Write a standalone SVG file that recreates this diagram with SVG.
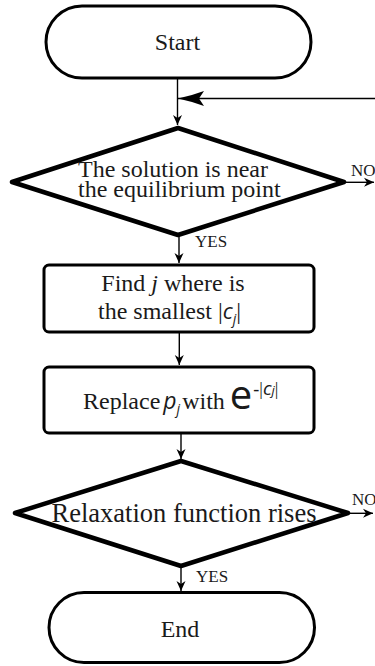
<svg xmlns="http://www.w3.org/2000/svg" width="375" height="666" viewBox="0 0 375 666">
<style>
.term,.box,.dec{fill:#fff;stroke:#000;}
.term{stroke-width:3;}
.box{stroke-width:3;}
.dec{stroke-width:4.5;stroke-linejoin:round;}
.t{font-family:"Liberation Serif","Times New Roman",serif;fill:#1a1a1a;}
.m{font-family:"Open Sans","Noto Sans",sans-serif;font-style:italic;fill:#1a1a1a;}
.ms{font-family:"Open Sans","Noto Sans",sans-serif;fill:#1a1a1a;}
.lbl{font-family:"Liberation Serif","Times New Roman",serif;font-size:17px;fill:#1a1a1a;}
.c{fill:none;stroke:#000;stroke-width:1.4;}
</style>
<defs>
<marker id="ah" markerUnits="userSpaceOnUse" markerWidth="12" markerHeight="10" refX="10" refY="4.5" orient="auto" overflow="visible">
<path d="M0,0 L10,4.5 L0,9 L3,4.5 z" fill="#000"/>
</marker>
<marker id="big" markerUnits="userSpaceOnUse" markerWidth="28" markerHeight="16" refX="26" refY="7.5" orient="auto" overflow="visible">
<path d="M0,0 Q12,4.5 26,7.5 Q12,10.5 0,15 L5,7.5 z" fill="#000"/>
</marker>
</defs>
<g id="connectors">
<path class="c" d="M177.5,79 V125" marker-end="url(#ah)"/>
<path class="c" d="M375,98.5 H178" marker-end="url(#big)"/>
<path class="c" d="M345,182.3 H374" marker-end="url(#ah)"/>
<path class="c" d="M179,235 V263" marker-end="url(#ah)"/>
<path class="c" d="M179.3,333 V365" marker-end="url(#ah)"/>
<path class="c" d="M181,434 V459" marker-end="url(#ah)"/>
<path class="c" d="M350,513.3 H373" marker-end="url(#ah)"/>
<path class="c" d="M181,567 V591" marker-end="url(#ah)"/>
<text class="lbl" x="351" y="176">NO</text>
<text class="lbl" x="195" y="247">YES</text>
<text class="lbl" x="352" y="505">NO</text>
<text class="lbl" x="196" y="582">YES</text>
</g>
<g id="start">
<rect class="term" x="46" y="6" width="265" height="72" rx="36"/>
<text class="t" x="177.5" y="50" font-size="24" text-anchor="middle">Start</text>
</g>
<g id="decision1">
<path class="dec" d="M178,128 L344,182 L178,235 L12,182 z"/>
<text class="t" x="78" y="177" font-size="24">The solution is near</text>
<text class="t" x="78" y="197" font-size="24">the equilibrium point</text>
</g>
<g id="find">
<rect class="box" x="44" y="265" width="270" height="67" rx="5"/>
<text class="t" x="173" y="291" font-size="24" text-anchor="middle">Find <tspan font-style="italic">j</tspan> where is</text>
<text class="t" x="98" y="318.5" font-size="24">the smallest |<tspan class="m" font-size="22">c</tspan><tspan class="m" font-size="14" dy="5">j</tspan><tspan dy="-5">|</tspan></text>
</g>
<g id="replace">
<rect class="box" x="44" y="367" width="270" height="66" rx="5"/>
<text class="t" x="83" y="409" font-size="24">Replace<tspan class="m" font-size="23" dx="3">p</tspan><tspan class="m" font-size="14" dy="5">j</tspan><tspan dy="-5" dx="2">with</tspan><tspan class="ms" font-size="40" dx="5">e</tspan><tspan font-size="18" dy="-14" dx="1">-|</tspan><tspan class="m" font-size="19">c</tspan><tspan class="m" font-size="13">j</tspan><tspan font-size="18">|</tspan></text>
</g>
<g id="decision2">
<path class="dec" d="M181,461 L348,513 L181,566 L15,513 z"/>
<text class="t" x="184" y="522" font-size="26.5" text-anchor="middle">Relaxation function rises</text>
</g>
<g id="end">
<rect class="term" x="49" y="592.5" width="265.5" height="70" rx="35"/>
<text class="t" x="180" y="637" font-size="24" text-anchor="middle">End</text>
</g>
</svg>
